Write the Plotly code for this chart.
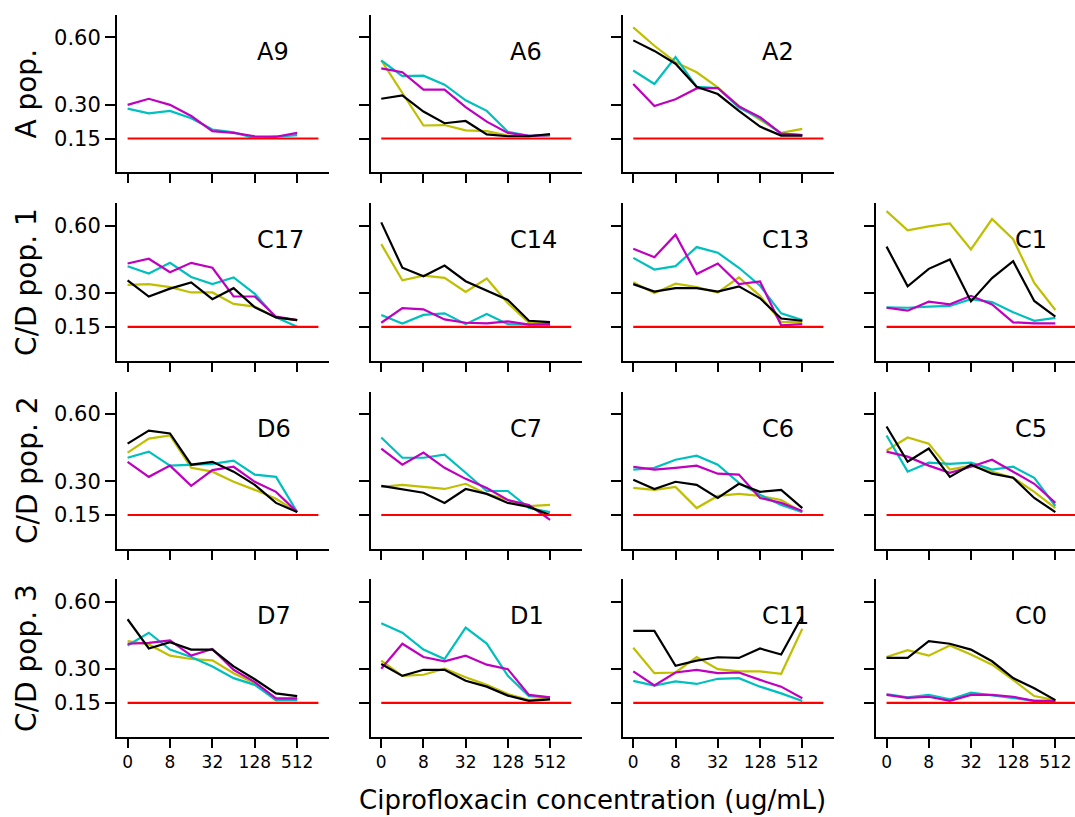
import plotly.graph_objects as go

# ---------------- data ----------------
conc = [0, 4, 8, 16, 32, 64, 128, 256, 512]          # ug/mL, one point per concentration
tick_labels = [0, 8, 32, 128, 512]
y_ticks = [0.15, 0.30, 0.60]
threshold = 0.15

row_labels = ["A pop.", "C/D pop. 1", "C/D pop. 2", "C/D pop. 3"]
x_title = "Ciprofloxacin concentration (ug/mL)"

# Row 1 : A populations
A9_c = [0.283, 0.262, 0.273, 0.240, 0.190, 0.177, 0.152, 0.157, 0.165]
A9_m = [0.300, 0.327, 0.300, 0.250, 0.183, 0.175, 0.160, 0.158, 0.175]

A6_y = [0.498, 0.352, 0.208, 0.210, 0.186, 0.183, 0.163, 0.160, 0.165]
A6_c = [0.498, 0.428, 0.430, 0.390, 0.320, 0.273, 0.180, 0.162, 0.165]
A6_m = [0.462, 0.445, 0.368, 0.368, 0.290, 0.225, 0.175, 0.162, 0.165]
A6_k = [0.327, 0.342, 0.270, 0.218, 0.228, 0.168, 0.160, 0.160, 0.170]

A2_y = [0.645, 0.563, 0.490, 0.445, 0.378, 0.295, 0.233, 0.175, 0.193]
A2_c = [0.453, 0.393, 0.513, 0.380, 0.375, 0.288, 0.240, 0.172, 0.165]
A2_m = [0.393, 0.295, 0.325, 0.373, 0.375, 0.293, 0.245, 0.172, 0.165]
A2_k = [0.587, 0.540, 0.483, 0.380, 0.348, 0.273, 0.203, 0.163, 0.163]

# Row 2 : C/D population 1
C17_y = [0.337, 0.340, 0.327, 0.303, 0.303, 0.252, 0.240, 0.192, 0.180]
C17_c = [0.420, 0.387, 0.435, 0.372, 0.340, 0.370, 0.297, 0.192, 0.150]
C17_m = [0.432, 0.453, 0.393, 0.435, 0.413, 0.285, 0.285, 0.195, 0.180]
C17_k = [0.357, 0.285, 0.320, 0.348, 0.273, 0.322, 0.237, 0.192, 0.180]

C14_y = [0.518, 0.357, 0.378, 0.368, 0.305, 0.365, 0.255, 0.168, 0.171]
C14_c = [0.203, 0.165, 0.203, 0.210, 0.162, 0.207, 0.162, 0.160, 0.159]
C14_m = [0.168, 0.233, 0.228, 0.183, 0.168, 0.165, 0.174, 0.160, 0.162]
C14_k = [0.615, 0.413, 0.375, 0.423, 0.353, 0.310, 0.270, 0.177, 0.171]

C13_y = [0.348, 0.300, 0.342, 0.327, 0.303, 0.370, 0.288, 0.172, 0.171]
C13_c = [0.457, 0.405, 0.420, 0.505, 0.480, 0.413, 0.333, 0.210, 0.180]
C13_m = [0.498, 0.460, 0.560, 0.385, 0.432, 0.340, 0.352, 0.157, 0.162]
C13_k = [0.340, 0.307, 0.322, 0.322, 0.307, 0.330, 0.277, 0.187, 0.177]

C1_y = [0.665, 0.580, 0.597, 0.610, 0.495, 0.630, 0.540, 0.345, 0.225]
C1_c = [0.237, 0.235, 0.240, 0.243, 0.273, 0.260, 0.215, 0.177, 0.190]
C1_m = [0.235, 0.222, 0.262, 0.250, 0.288, 0.250, 0.170, 0.165, 0.165]
C1_k = [0.507, 0.330, 0.408, 0.450, 0.263, 0.367, 0.442, 0.265, 0.195]

# Row 3 : C/D population 2
D6_y = [0.428, 0.490, 0.504, 0.360, 0.343, 0.298, 0.262, 0.222, 0.163]
D6_c = [0.405, 0.432, 0.370, 0.374, 0.378, 0.392, 0.330, 0.320, 0.163]
D6_m = [0.387, 0.320, 0.370, 0.280, 0.350, 0.365, 0.298, 0.253, 0.163]
D6_k = [0.468, 0.526, 0.513, 0.374, 0.387, 0.343, 0.284, 0.204, 0.163]

C7_y = [0.275, 0.284, 0.275, 0.266, 0.289, 0.244, 0.217, 0.190, 0.195]
C7_c = [0.495, 0.405, 0.405, 0.419, 0.338, 0.257, 0.257, 0.181, 0.163]
C7_m = [0.446, 0.374, 0.428, 0.360, 0.311, 0.270, 0.217, 0.195, 0.128]
C7_k = [0.280, 0.266, 0.249, 0.204, 0.266, 0.244, 0.204, 0.186, 0.150]

C6_y = [0.271, 0.262, 0.275, 0.181, 0.235, 0.244, 0.235, 0.217, 0.163]
C6_c = [0.352, 0.360, 0.396, 0.414, 0.374, 0.293, 0.240, 0.195, 0.163]
C6_m = [0.365, 0.352, 0.360, 0.370, 0.334, 0.330, 0.226, 0.204, 0.168]
C6_k = [0.307, 0.266, 0.298, 0.284, 0.226, 0.289, 0.253, 0.262, 0.181]

C5_y = [0.437, 0.495, 0.468, 0.352, 0.370, 0.343, 0.316, 0.253, 0.181]
C5_c = [0.504, 0.343, 0.383, 0.378, 0.383, 0.352, 0.365, 0.316, 0.190]
C5_m = [0.432, 0.410, 0.370, 0.338, 0.365, 0.396, 0.343, 0.289, 0.204]
C5_k = [0.544, 0.387, 0.446, 0.320, 0.374, 0.334, 0.316, 0.226, 0.163]

# Row 4 : C/D population 3
D7_y = [0.425, 0.410, 0.360, 0.345, 0.339, 0.282, 0.237, 0.162, 0.165]
D7_c = [0.405, 0.462, 0.387, 0.354, 0.312, 0.260, 0.230, 0.162, 0.162]
D7_m = [0.413, 0.417, 0.428, 0.360, 0.390, 0.297, 0.242, 0.170, 0.170]
D7_k = [0.522, 0.392, 0.420, 0.387, 0.387, 0.312, 0.255, 0.192, 0.180]

D1_y = [0.338, 0.270, 0.275, 0.302, 0.264, 0.230, 0.189, 0.162, 0.170]
D1_c = [0.504, 0.462, 0.387, 0.345, 0.485, 0.414, 0.270, 0.180, 0.174]
D1_m = [0.302, 0.413, 0.354, 0.335, 0.360, 0.320, 0.300, 0.185, 0.174]
D1_k = [0.323, 0.270, 0.297, 0.297, 0.248, 0.222, 0.182, 0.159, 0.165]

C11_y = [0.395, 0.282, 0.285, 0.354, 0.300, 0.290, 0.290, 0.279, 0.480]
C11_c = [0.248, 0.227, 0.245, 0.234, 0.257, 0.260, 0.222, 0.192, 0.158]
C11_m = [0.290, 0.227, 0.285, 0.297, 0.282, 0.285, 0.252, 0.222, 0.170]
C11_k = [0.470, 0.470, 0.315, 0.338, 0.353, 0.350, 0.392, 0.365, 0.537]

C0_y = [0.354, 0.384, 0.360, 0.405, 0.365, 0.320, 0.252, 0.180, 0.162]
C0_c = [0.189, 0.174, 0.185, 0.165, 0.195, 0.182, 0.170, 0.159, 0.159]
C0_m = [0.185, 0.172, 0.177, 0.159, 0.185, 0.185, 0.177, 0.159, 0.159]
C0_k = [0.350, 0.350, 0.425, 0.413, 0.387, 0.335, 0.260, 0.215, 0.162]

# grid of panels: (row, col, name, series)
panels = [
    (0, 0, "A9", {"c": A9_c, "m": A9_m}),
    (0, 1, "A6", {"y": A6_y, "c": A6_c, "m": A6_m, "k": A6_k}),
    (0, 2, "A2", {"y": A2_y, "c": A2_c, "m": A2_m, "k": A2_k}),
    (1, 0, "C17", {"y": C17_y, "c": C17_c, "m": C17_m, "k": C17_k}),
    (1, 1, "C14", {"y": C14_y, "c": C14_c, "m": C14_m, "k": C14_k}),
    (1, 2, "C13", {"y": C13_y, "c": C13_c, "m": C13_m, "k": C13_k}),
    (1, 3, "C1", {"y": C1_y, "c": C1_c, "m": C1_m, "k": C1_k}),
    (2, 0, "D6", {"y": D6_y, "c": D6_c, "m": D6_m, "k": D6_k}),
    (2, 1, "C7", {"y": C7_y, "c": C7_c, "m": C7_m, "k": C7_k}),
    (2, 2, "C6", {"y": C6_y, "c": C6_c, "m": C6_m, "k": C6_k}),
    (2, 3, "C5", {"y": C5_y, "c": C5_c, "m": C5_m, "k": C5_k}),
    (3, 0, "D7", {"y": D7_y, "c": D7_c, "m": D7_m, "k": D7_k}),
    (3, 1, "D1", {"y": D1_y, "c": D1_c, "m": D1_m, "k": D1_k}),
    (3, 2, "C11", {"y": C11_y, "c": C11_c, "m": C11_m, "k": C11_k}),
    (3, 3, "C0", {"y": C0_y, "c": C0_c, "m": C0_m, "k": C0_k}),
]

# ---------------- style / layout ----------------
W, H = 1075, 817
FONT = "DejaVu Sans"
colors = {"y": "#bfbf00", "c": "#00bfbf", "m": "#bf00bf", "k": "#000000"}
red = "#ff0000"
col_px = [(117, 329), (370.7, 581.7), (622.7, 834), (876, 1087)]
row_top = [15, 203.3, 391.5, 579.3]
panel_h = 157.2
x_lo, x_hi = -0.5, 9.5
y_lo, y_hi = 0.0, 0.7
LW = 2.2

xpos = list(range(len(conc)))
tickvals = [conc.index(t) for t in tick_labels]

fig = go.Figure()
layout = dict(
    width=W, height=H, margin=dict(l=0, r=0, t=0, b=0),
    paper_bgcolor="white", plot_bgcolor="white", showlegend=False,
    font=dict(family=FONT, color="black"),
)
annotations = []

for n, (r, c, name, series) in enumerate(panels, start=1):
    xa = "x" if n == 1 else f"x{n}"
    ya = "y" if n == 1 else f"y{n}"
    x0, x1 = col_px[c]
    upp = (x_hi - x_lo) / (x1 - x0)
    x1c = min(x1, W)
    xr_hi = x_lo + (x1c - x0) * upp
    top = row_top[r]
    bot = top + panel_h
    layout["xaxis" if n == 1 else f"xaxis{n}"] = dict(
        domain=[x0 / W, x1c / W], anchor=ya, range=[x_lo, xr_hi],
        showgrid=False, zeroline=False, showline=True, linecolor="black", linewidth=2,
        ticks="outside", ticklen=9, tickwidth=2, tickcolor="black",
        tickvals=tickvals, ticktext=[str(t) for t in tick_labels],
        showticklabels=(r == 3), tickfont=dict(size=17, family=FONT, color="black"),
        ticklabeloverflow="allow", automargin=False,
    )
    layout["yaxis" if n == 1 else f"yaxis{n}"] = dict(
        domain=[1 - bot / H, 1 - top / H], anchor=xa, range=[y_lo, y_hi],
        showgrid=False, zeroline=False, showline=True, linecolor="black", linewidth=2,
        ticks="outside", ticklen=10, tickwidth=2, tickcolor="black",
        tickvals=y_ticks, ticktext=[f"{v:.2f}" for v in y_ticks],
        showticklabels=(c == 0), tickfont=dict(size=21, family=FONT, color="black"),
        automargin=False,
    )
    for key in ["y", "c", "m", "k"]:
        if key in series:
            fig.add_trace(go.Scatter(
                x=xpos, y=series[key], mode="lines", xaxis=xa, yaxis=ya,
                line=dict(color=colors[key], width=LW), hoverinfo="skip",
            ))
    fig.add_trace(go.Scatter(
        x=[xpos[0], len(conc)], y=[threshold, threshold], mode="lines",
        xaxis=xa, yaxis=ya, line=dict(color=red, width=LW), hoverinfo="skip",
    ))
    annotations.append(dict(
        text=name, xref=xa, yref=ya, x=6, y=0.535, xanchor="left", yanchor="middle",
        showarrow=False, font=dict(size=24, family=FONT, color="black"),
    ))

for r, lab in enumerate(row_labels):
    yc = row_top[r] + panel_h / 2
    annotations.append(dict(
        text=lab, xref="paper", yref="paper", x=27 / W, y=1 - yc / H,
        xanchor="center", yanchor="middle", textangle=-90, showarrow=False,
        font=dict(size=28, family=FONT, color="black"),
    ))

annotations.append(dict(
    text=x_title, xref="paper", yref="paper", x=592 / W, y=1 - 800 / H,
    xanchor="center", yanchor="middle", showarrow=False,
    font=dict(size=26, family=FONT, color="black"),
))

layout["annotations"] = annotations
fig.update_layout(**layout)
fig.write_html(
    "out.html",
    config={"displayModeBar": False},
    post_script="document.body.style.margin='0px';document.body.style.overflow='hidden';",
)
